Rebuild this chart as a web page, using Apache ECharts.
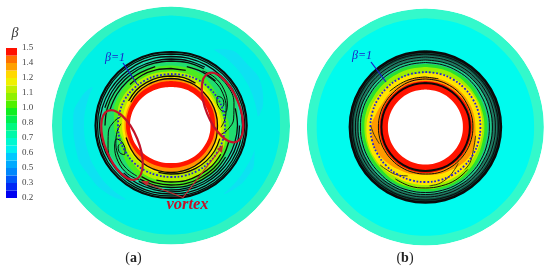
<!DOCTYPE html>
<html>
<head>
<meta charset="UTF-8">
<title>beta contours</title>
<script src="https://cdn.jsdelivr.net/npm/echarts@6/dist/echarts.min.js"></script>
<style>html,body{margin:0;padding:0;background:#fff}</style>
</head>
<body>
<div id="main" style="width:550px;height:272px;filter:blur(0.4px);"></div>
<script type="text/javascript">
// colorbar, bottom to top
var barTicks = ['0.2','0.3','0.5','0.6','0.7','0.8','1.0','1.1','1.2','1.4','1.5'];
var barColors = ['#0000f0','#0028f5','#0058fa','#0088fc','#00aafe','#00c8ff','#00f0f0','#00f8d0','#00f8a8','#00f880',
  '#00f050','#10ee20','#50f000','#90f000','#c0f000','#f0f000','#ffd800','#ffa000','#ff7000','#ff1000'];

// radius every 15 degrees clockwise from the top, closing point last
var angles = [0,15,30,45,60,75,90,105,120,135,150,165,180,195,210,225,240,255,270,285,300,315,330,345,360];

// (a) filled levels, outside to inside
var aOuter = [119,119,119,119,119,119,119,119,119,119,119,119,119,119,119,119,119,119,119,119,119,119,119,119,119];
var aCyan = [110,110,110,110,110,110,109,109,109,109,109,109,109,109,109,109,109,109,109,109,109,109,110,110,110];
var aCover = [87,87,87,87,87,87,87,87,86,86,86,86,86,86,86,87,87,87,87,87,87,87,87,87,87];
var aTeal = [73.5,74,74.5,75,75.5,75.7,75.7,75.3,74.5,73.8,73.2,72.8,72.5,73,73.6,74.3,75,75.4,75.5,75.5,75.2,75,74.5,74,73.5];
var aGreenDark = [65,65.5,66,68,69,69,67,65,64,64,63.5,63.5,63,63.5,64,65,67,69,69,68,66.5,66,65.5,65,65];
var aGreen = [60,60,59.5,57,55,55,58,60,61,62,62,61.5,61,61,60.5,59,56,55,57,59,60,60.5,61,60.5,60];
var aLime = [54,54,53.5,52,51,51.5,54,56,57,57.5,57.5,57,56,56,55.5,53.5,51,50.5,53,55,56,55.5,55,54.5,54];
var aYellow = [50,50,50,49,49,49.5,50.5,51,51,50.5,50,49.5,49,49,49,48.5,48.5,48.5,49,49,49.5,50,50,50,50];
var aOrange = [47,47,47,47,47,47,47,47,47,46.5,46.5,46.5,46.5,46.5,46.5,46.5,46.5,46.5,46.5,46.5,46.5,47,47,47,47];
var aRed = [44.5,44.5,44.5,44.5,44.5,44.5,44,44,43.5,43.5,43,42.5,42.5,42.5,43,43.5,44,44.5,45,45,45,45,44.5,44.5,44.5];
var aHole = [38.5,38.7,39,39.2,39.5,39.5,39.5,39.5,39.2,39,38.5,38,37.5,38,38.5,39.2,40,40.5,41,41,40.5,40,39.2,38.8,38.5];
var aDots = [51.5,52,53,53.5,54,54,54,53.8,53.5,53,52.5,52,51.5,51.5,52,52.5,52.5,53,53,53,53,52.5,52,51.7,51.5];

// (a) pale crescents in the cyan field: [radius, angle]
var aCrescent1 = [[88,30],[94,36],[98,52],[99,66],[95,76],[88,84]];
var aCrescent2 = [[87,106],[91,114],[92,124],[90,134],[87,142]];
var aCrescent3 = [[88,212],[93,222],[96,238],[98,256],[98,274],[94,288],[88,296]];

// (a) contour lines, null where a line stops
var aLines = [
  [71.5,72,72.5,73,73.5,73.7,73.7,73.3,72.5,72,71.5,71,70.5,71,71.5,72.3,73,73.4,73.5,73.5,73.2,73,72.5,72,71.5],
  [69,69.5,70,70.5,71.5,71.5,71.5,71,70.5,70,69.5,69,68.5,69,69.5,70,70.5,71,71.5,71,70.5,70,70,69.5,69],
  [66.5,67,67.5,null,null,null,68.5,68.5,68,67.5,67,66.5,66.5,66.5,67,67,null,null,null,68.5,68,67.5,67,66.5,66.5],
  [64.5,65,65.5,null,null,66.5,66.5,66,65.5,65.5,65,64.5,64.5,64.5,64.5,null,null,null,66,66,65.5,65,65,64.5,64.5],
  [null,61,62,63,null,null,null,null,63,63,62.5,62.5,62,62,62,null,null,null,null,63,62.5,62,61,61,null],
  [57,57,null,null,null,null,null,60,60.5,60.5,60,60,59.5,59.5,59,null,null,null,null,null,null,58,58,57.5,57],
  [null,null,null,null,null,null,null,null,57.5,57.5,57,57,56.5,56.5,null,null,null,null,null,null,null,null,null,55,null],
  [49.5,49.5,49,null,null,null,null,50.5,50.5,50,49.5,49,48.5,48.5,null,null,null,null,null,null,49,49.5,49.5,49.5,49.5],
  [47,47,47,46.5,46.5,46.5,46.5,47,47,47,47,47,47,47,47,47,46.5,46.5,null,null,46.5,47,47,47,47]
];
// (a) the two swirls: [radius, angle]
var aSwirl1 = [[63,30],[65,42],[64,56],[60,70],[56,76],[52,72],[52,62],[55,58],[58,62],[57,68],[55,70]];
var aSwirl2 = [[68,38],[69,54],[67,70],[63,84],[57,94],[51,100]];
var aSwirl3 = [[61,34],[62,46],[61,58],[58,72],[54,84],[50,92]];
var aSwirl4 = [[63,210],[65,222],[64,236],[60,250],[56,256],[52,252],[52,242],[55,238],[58,242],[57,248],[55,250]];
var aSwirl5 = [[68,218],[69,234],[67,250],[63,264],[57,274],[51,280]];
var aSwirl6 = [[61,214],[62,226],[61,238],[58,252],[54,264],[50,272]];
var aCores = [[55,65.6],[54,247.5]];

// (b) filled levels
var bOuter = [118.5,118.5,118.5,118.5,118.5,118.5,118.5,118.5,118.5,118.5,118.5,118.5,118.5,118.5,118.5,118.5,118.5,118.5,118.5,118.5,118.5,118.5,118.5,118.5,118.5];
var bCyan = [108.7,108.7,108.7,108.7,108.7,108.7,108.7,108.7,108.7,108.7,108.7,108.7,108.7,108.7,108.7,108.7,108.7,108.7,108.7,108.7,108.7,108.7,108.7,108.7,108.7];
var bDark = [75.5,75.5,75.5,75.5,75.5,75.5,75.5,75.5,75.5,75.5,75.5,75.5,75.5,75.5,75.5,75.5,75.5,75.5,75.5,75.5,75.5,75.5,75.5,75.5,75.5];
var bTeal = [71.5,71.5,71.5,71.5,71.5,71.5,71.5,71.5,71.5,71.5,71.5,71.5,71.5,71.5,71.5,71.5,71.5,71.5,71.5,71.5,71.5,71.5,71.5,71.5,71.5];
var bSea = [67,67,67,67,66.5,66.5,66.5,66.5,67,67,67.5,67.5,67.5,67.5,67,67,67,67,67,67,67,67,67,67,67];
var bGreen = [63,63,63,63,62,62,62,62,63,64,64.5,64.5,64.5,64.5,64.5,64,64,64,64,64,63.5,63,63,63,63];
var bLime = [60,60,60,59.5,59,59,59,59,60,61,62,62,62,62,62,61,61,61,61,61,60,60,60,60,60];
var bYellow = [54,55,56,57,57.5,57.5,57,57,57,57.5,58,58,58,58,58,59,59.5,59.5,59,58,57,56,55,54,54];
var bOrange = [50,50,50,50,50,50,50,52,53,52,50,49,48,49,50,52,54,55,54,51,49,49,49,50,50];
var bRed = [46,46,46,46,46.5,46.5,46.5,46.5,46.5,46.5,46,46,46,46,46,46,46,46,46,46,46,46,46,46,46];
var bHole = [37.5,37.5,37.5,37.5,37.5,37.5,37.5,37.5,37.5,37.5,37.5,37.5,37.5,37.5,37.5,37.5,37.5,37.5,37.5,37.5,37.5,37.5,37.5,37.5,37.5];
var bDots = [55,55,55,55,55,55,55,55,55,55,55,55,55,55,55,55,55,55,55,55,55,55,55,55,55];
var bLines = [
  [73,73,73,73,73,73,73,73,73,73,73,73,73,73,73,73,73,73,73,73,73,73,73,73,73],
  [70,70,70,70,70,70,70,70,70,70,70,70,70,70,70,70,70,70,70,70,70,70,70,70,70],
  [67,67,67,67,67,67,67,67,67,67.5,67.5,67.5,67.5,67.5,67.5,67.5,67.5,67.5,67.5,67.5,67,67,67,67,67],
  [64.5,64.5,64.5,64.5,64,64,64,64,64.5,65,65.5,65.5,65.5,65.5,65.5,65,65,65,65,65,64.5,64.5,64.5,64.5,64.5],
  [null,null,null,null,null,null,null,null,null,60,61,61,61,61,60,null,null,null,null,null,null,null,null,null,null],
  [50,50,null,null,null,null,null,null,null,null,null,null,null,null,null,null,null,null,null,null,null,50.5,50,50,50],
  [48,48,48,48,47.5,47.5,47.5,47.5,47.5,47.5,47.5,47.5,47,47,47,47,47,47,47,47,47,47,47.5,48,48],
  [44,44,44,44,44,44.5,44.5,44.5,44.5,44.5,44.5,44,44,44,44,44,44,44,44,44,44,44,44,44,44]
];
var bBlade1 = [[51,100],[53,115],[57,128],[58,137]];
var bBlade2 = [[49,138],[54,152],[58,165],[59,176]];
var bBlade3 = [[52,200],[56,212],[58,224],[59,230]];
var bBlade4 = [[49,250],[52,262],[55,272]];

function pairs(values) {
  return values.map(function (v, i) { return [v, angles[i]]; });
}
function fillLevel(polar, values, color) {
  return { type: 'line', coordinateSystem: 'polar', polarIndex: polar, data: pairs(values), smooth: 0.4, symbol: 'none',
    silent: true, clip: false, lineStyle: { width: 0 }, areaStyle: { color: color, opacity: 1 } };
}
function fillPatch(polar, data, color) {
  return { type: 'line', coordinateSystem: 'polar', polarIndex: polar, data: data, smooth: 0.5, symbol: 'none',
    silent: true, clip: false, lineStyle: { width: 0 }, areaStyle: { color: color, opacity: 1 } };
}
function contour(polar, data, width, color, dash) {
  return { type: 'line', coordinateSystem: 'polar', polarIndex: polar, data: data, smooth: 0.4, symbol: 'none',
    silent: true, clip: false, connectNulls: false, lineStyle: { width: width, color: color || '#0a0a0a', type: dash || 'solid' } };
}

var series = [
  fillLevel(0, aOuter, '#2ff3c2'),
  fillLevel(0, aCyan, '#00f1e6'),
  fillPatch(0, aCrescent1, '#0de2f2'),
  fillPatch(0, aCrescent2, '#0de2f2'),
  fillPatch(0, aCrescent3, '#0de2f2'),
  fillLevel(0, aCover, '#00f1e6'),
  fillLevel(0, aTeal, '#1fdcb0'),
  fillLevel(0, aGreenDark, '#20dc70'),
  fillLevel(0, aGreen, '#4cec20'),
  fillLevel(0, aLime, '#b4f000'),
  fillLevel(0, aYellow, '#ffe600'),
  fillLevel(0, aOrange, '#ff9400'),
  fillLevel(0, aRed, '#ff1400'),
  fillLevel(0, aHole, '#ffffff'),

  fillLevel(1, bOuter, '#33f9cb'),
  fillLevel(1, bCyan, '#00fbee'),
  fillLevel(1, bDark, '#0f4a3d'),
  fillLevel(1, bTeal, '#1f7d64'),
  fillLevel(1, bSea, '#20c98c'),
  fillLevel(1, bGreen, '#28e030'),
  fillLevel(1, bLime, '#9cf000'),
  fillLevel(1, bYellow, '#ffe400'),
  fillLevel(1, bOrange, '#ff9a00'),
  fillLevel(1, bRed, '#ff1400'),
  fillLevel(1, bHole, '#ffffff')
];

aLines.forEach(function (r) { series.push(contour(0, pairs(r), 1.3)); });
series.push(contour(0, pairs(aTeal), 2.2));
[aSwirl1, aSwirl2, aSwirl3, aSwirl4, aSwirl5, aSwirl6].forEach(function (d) { series.push(contour(0, d, 1)); });
series.push({ type: 'scatter', coordinateSystem: 'polar', polarIndex: 0, data: aCores, symbolSize: 5, silent: true,
  itemStyle: { color: '#101010' } });
series.push(contour(0, pairs(aDots), 1.8, '#2222d8', [1.8, 1.8]));

bLines.forEach(function (r, i) { series.push(contour(1, pairs(r), i === 7 ? 2 : 1)); });
series.push(contour(1, pairs(bDark), 2.6));
[bBlade1, bBlade2, bBlade3, bBlade4].forEach(function (d) { series.push(contour(1, d, 1, '#3a3a10')); });
series.push(contour(1, pairs(bDots), 1.8, '#2222d8', [1.8, 1.8]));

// colorbar as stacked half-step bars
barColors.forEach(function (c) {
  series.push({ type: 'bar', xAxisIndex: 0, yAxisIndex: 0, stack: 'bar', data: [0.5], barWidth: '100%', silent: true,
    itemStyle: { color: c } });
});

var chart = echarts.init(document.getElementById('main'));
var serif = '"Liberation Serif", serif';
var red = '#c41228';
var blue = '#1c1cc8';

chart.setOption({
  animation: false,
  backgroundColor: '#fff',
  polar: [
    { center: [171, 125.5], radius: 119 },
    { center: [425.4, 127], radius: 118.5 }
  ],
  angleAxis: [
    { polarIndex: 0, type: 'value', min: 0, max: 360, startAngle: 90, clockwise: true, show: false },
    { polarIndex: 1, type: 'value', min: 0, max: 360, startAngle: 90, clockwise: true, show: false }
  ],
  radiusAxis: [
    { polarIndex: 0, type: 'value', min: 0, max: 119, show: false },
    { polarIndex: 1, type: 'value', min: 0, max: 118.5, show: false }
  ],
  grid: { left: 6, top: 48, width: 11, height: 150, containLabel: false },
  xAxis: { type: 'category', data: ['b'], show: false },
  yAxis: {
    type: 'value', position: 'right', min: 0, max: 10, interval: 1,
    axisLine: { show: false }, axisTick: { show: false }, splitLine: { show: false },
    axisLabel: { margin: 5, fontFamily: serif, fontSize: 9, color: '#444', padding: [3, 0, 0, 0],
      formatter: function (v) { return barTicks[v]; } }
  },
  series: series,
  graphic: [
    { type: 'text', z: 100, x: 15, y: 33, style: { text: 'β', font: 'italic 14px ' + serif, fill: '#333', align: 'center', verticalAlign: 'middle' } },
    { type: 'ellipse', z: 100, x: 122, y: 145, rotation: 0.39, shape: { cx: 0, cy: 0, rx: 16.5, ry: 37 }, style: { fill: 'none', stroke: red, lineWidth: 2.2 } },
    { type: 'ellipse', z: 100, x: 222.5, y: 107.5, rotation: 0.39, shape: { cx: 0, cy: 0, rx: 16.5, ry: 37 }, style: { fill: 'none', stroke: red, lineWidth: 2.2 } },
    { type: 'polyline', z: 100, shape: { points: [[146, 183], [183, 197.5], [219, 151]] }, style: { fill: 'none', stroke: '#c42a30', lineWidth: 1.2 } },
    { type: 'polygon', z: 100, shape: { points: [[141, 181], [149, 181], [147, 186]] }, style: { fill: '#c42a30' } },
    { type: 'polygon', z: 100, shape: { points: [[223, 145], [222, 153], [217, 149]] }, style: { fill: '#c42a30' } },
    { type: 'text', z: 100, x: 187.5, y: 205, style: { text: 'vortex', font: 'italic bold 16.5px ' + serif, fill: red, align: 'center', verticalAlign: 'middle' } },
    { type: 'text', z: 100, x: 115, y: 58, style: { text: 'β=1', font: 'italic 12px ' + serif, fill: blue, align: 'center', verticalAlign: 'middle' } },
    { type: 'line', z: 100, shape: { x1: 123, y1: 63, x2: 137, y2: 84 }, style: { stroke: blue, lineWidth: 1.2 } },
    { type: 'text', z: 100, x: 362, y: 56, style: { text: 'β=1', font: 'italic 12px ' + serif, fill: blue, align: 'center', verticalAlign: 'middle' } },
    { type: 'line', z: 100, shape: { x1: 371, y1: 62, x2: 386, y2: 82 }, style: { stroke: blue, lineWidth: 1.2 } },
    { type: 'text', z: 100, x: 133.5, y: 258, style: { rich: { p: { font: '14px ' + serif, fill: '#222' }, b: { font: 'bold 14px ' + serif, fill: '#222' } }, text: '{p|(}{b|a}{p|)}', align: 'center', verticalAlign: 'middle' } },
    { type: 'text', z: 100, x: 405, y: 258, style: { rich: { p: { font: '14px ' + serif, fill: '#222' }, b: { font: 'bold 14px ' + serif, fill: '#222' } }, text: '{p|(}{b|b}{p|)}', align: 'center', verticalAlign: 'middle' } }
  ]
});
</script>
</body>
</html>
